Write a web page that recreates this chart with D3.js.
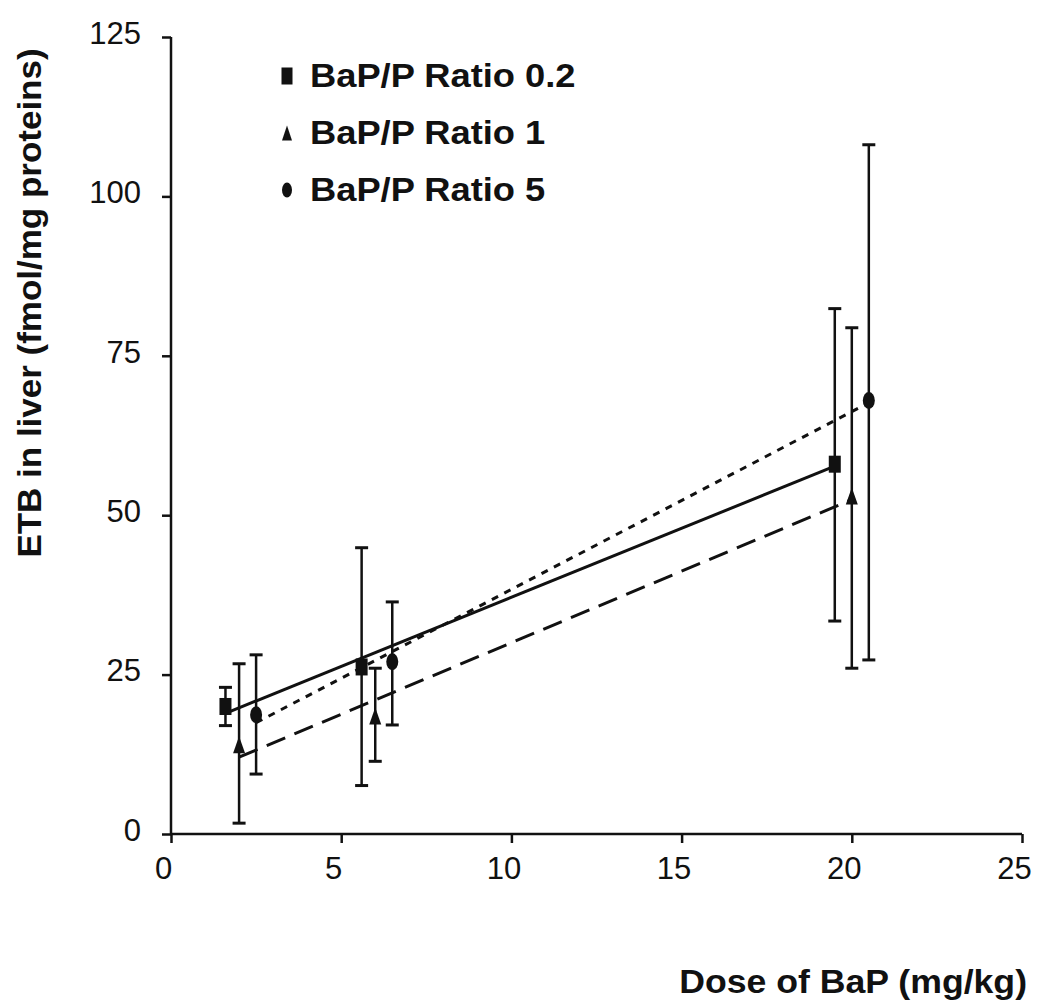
<!DOCTYPE html>
<html><head><meta charset="utf-8">
<script src="https://cdn.jsdelivr.net/npm/d3@7"></script>
<style>
html,body{margin:0;padding:0;background:#fff;}
svg{display:block;font-family:"Liberation Sans",Arial,sans-serif;}
</style></head>
<body><svg id="c" width="1038" height="1003"></svg>
<script>
// Data
const seriesNames = ["BaP/P Ratio 0.2", "BaP/P Ratio 1", "BaP/P Ratio 5"];
const seriesShapes = ["square", "triangle", "circle"];
const seriesDash = ["none", "20,10", "7,7"];
const doseR02 = [1.6, 5.6, 19.5];
const meanR02 = [20.0, 26.2, 58.0];
const lowR02  = [17.0, 7.6, 33.4];
const highR02 = [23.0, 44.9, 82.4];
const doseR1  = [2.0, 6.0, 20.0];
const meanR1  = [14.0, 18.5, 53.0];
const lowR1   = [1.7, 11.4, 26.0];
const highR1  = [26.7, 26.0, 79.4];
const doseR5  = [2.5, 6.5, 20.5];
const meanR5  = [18.7, 27.0, 68.0];
const lowR5   = [9.4, 17.1, 27.3];
const highR5  = [28.1, 36.4, 108.1];
const xTicks = [0, 5, 10, 15, 20, 25];
const yTicks = [0, 25, 50, 75, 100, 125];
const xTitle = "Dose of BaP (mg/kg)";
const yTitle = "ETB in liver (fmol/mg proteins)";

const series = [
  {dose: doseR02, mean: meanR02, low: lowR02, high: highR02},
  {dose: doseR1, mean: meanR1, low: lowR1, high: highR1},
  {dose: doseR5, mean: meanR5, low: lowR5, high: highR5}
].map((s, i) => ({...s, name: seriesNames[i], shape: seriesShapes[i], dash: seriesDash[i]}));

const svg = d3.select("#c");
const x = d3.scaleLinear().domain([0, 25]).range([171, 1022]);
const y = d3.scaleLinear().domain([0, 125]).range([834, 37]);

// axes
const xAxis = svg.append("g").attr("transform", `translate(0,${y(0)})`)
  .call(d3.axisBottom(x).tickValues(xTicks).tickSize(9).tickPadding(14).tickFormat(d3.format("d")));
const yAxis = svg.append("g").attr("transform", `translate(${x(0)},0)`)
  .call(d3.axisLeft(y).tickValues(yTicks).tickSize(9).tickPadding(21).tickFormat(d3.format("d")));
[xAxis, yAxis].forEach(a => {
  a.select(".domain").attr("stroke", "#111").attr("stroke-width", 2.5);
  a.selectAll(".tick line").attr("stroke", "#111").attr("stroke-width", 2.5);
  a.selectAll(".tick text").attr("fill", "#111").attr("font-size", 31)
   .attr("font-family", "'Liberation Sans', Arial, sans-serif");
});
xAxis.selectAll(".tick text").attr("dx", -8);
yAxis.selectAll(".tick text").attr("dy", "0.2em");
xAxis.select(".domain").attr("d", `M${x(0)},0H${x(25)}`);
yAxis.select(".domain").attr("d", `M0,${y(0)}V${y(125)}`);

// regression lines (least squares through each series)
function fit(xs, ys) {
  const mx = d3.mean(xs), my = d3.mean(ys);
  let sxy = 0, sxx = 0;
  xs.forEach((v, i) => { sxy += (v - mx) * (ys[i] - my); sxx += (v - mx) * (v - mx); });
  const b = sxy / sxx;
  return {a: my - b * mx, b};
}
series.forEach(s => {
  const f = fit(s.dose, s.mean);
  const x0 = d3.min(s.dose), x1 = d3.max(s.dose);
  svg.append("line")
    .attr("x1", x(x0)).attr("y1", y(f.a + f.b * x0))
    .attr("x2", x(x1)).attr("y2", y(f.a + f.b * x1))
    .attr("stroke", "#111").attr("stroke-width", 3)
    .attr("stroke-dasharray", s.dash === "none" ? null : s.dash);
});

// error bars
const capW = 13;
series.forEach(s => {
  const g = svg.append("g");
  s.dose.forEach((d, i) => {
    g.append("line").attr("x1", x(d)).attr("x2", x(d))
      .attr("y1", y(s.low[i])).attr("y2", y(s.high[i]))
      .attr("stroke", "#111").attr("stroke-width", 2.5);
    [s.low[i], s.high[i]].forEach(v => {
      g.append("line").attr("x1", x(d) - capW / 2).attr("x2", x(d) + capW / 2)
        .attr("y1", y(v)).attr("y2", y(v))
        .attr("stroke", "#111").attr("stroke-width", 3);
    });
  });
});

// markers
function marker(g, shape, cx, cy, w, h) {
  if (shape === "square") {
    g.append("rect").attr("x", cx - w / 2).attr("y", cy - h / 2).attr("width", w).attr("height", h).attr("fill", "#111");
  } else if (shape === "triangle") {
    g.append("path").attr("d", `M${cx},${cy - h / 2}L${cx + w / 2},${cy + h / 2}L${cx - w / 2},${cy + h / 2}Z`).attr("fill", "#111");
  } else {
    g.append("ellipse").attr("cx", cx).attr("cy", cy).attr("rx", w / 2).attr("ry", h / 2).attr("fill", "#111");
  }
}
series.forEach(s => {
  const g = svg.append("g");
  s.dose.forEach((d, i) => marker(g, s.shape, x(d), y(s.mean[i]), 12, 17));
});

// legend
const leg = svg.append("g");
series.forEach((s, i) => {
  const by = 87 + i * 57;
  marker(leg, s.shape, 287, by - 11, s.shape === "square" ? 11 : 10, s.shape === "square" ? 17 : 15);
  leg.append("text").attr("transform", `translate(310,${by}) scale(1.1,1)`).text(s.name)
    .attr("font-size", 33).attr("font-weight", "bold").attr("fill", "#111");
});

// axis titles
svg.append("text").attr("transform", "translate(1027,993) scale(1.08,1)").attr("text-anchor", "end")
  .attr("font-size", 33).attr("font-weight", "bold").attr("fill", "#111").text(xTitle);
svg.append("text").attr("transform", "translate(41,303) rotate(-90) scale(1.06,1)").attr("text-anchor", "middle")
  .attr("font-size", 33).attr("font-weight", "bold").attr("fill", "#111").text(yTitle);
</script></body></html>
